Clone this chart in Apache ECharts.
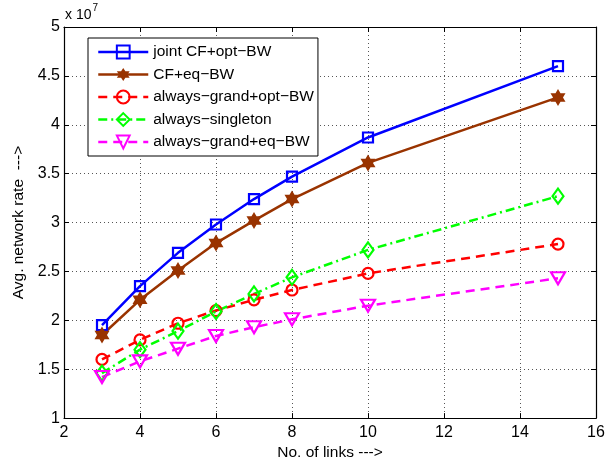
<!DOCTYPE html>
<html><head><meta charset="utf-8">
<script src="https://cdn.jsdelivr.net/npm/echarts@6/dist/echarts.min.js"></script>
<style>html,body{margin:0;padding:0;background:#fff}#c{width:616px;height:466px}</style>
</head><body><div id="c"></div>
<script>
const links = [3, 4, 5, 6, 7, 8, 10, 15];
const jointOptBW = [1.95, 2.35, 2.69, 2.98, 3.24, 3.47, 3.87, 4.60];
const cfEqBW = [1.85, 2.21, 2.51, 2.79, 3.02, 3.24, 3.61, 4.28];
const grandOptBW = [1.60, 1.80, 1.97, 2.10, 2.21, 2.31, 2.48, 2.78];
const singleton = [1.46, 1.70, 1.89, 2.09, 2.27, 2.44, 2.72, 3.27];
const grandEqBW = [1.42, 1.58, 1.71, 1.84, 1.93, 2.01, 2.15, 2.43];
const seriesNames = ['joint CF+opt\u2212BW', 'CF+eq\u2212BW', 'always\u2212grand+opt\u2212BW', 'always\u2212singleton', 'always\u2212grand+eq\u2212BW'];

const FONT = 'Liberation Sans, Arial, sans-serif';
const hexagram = 'path://M0,-100L28.87,-50L86.6,-50L57.7,0L86.6,50L28.87,50L0,100L-28.87,50L-86.6,50L-57.7,0L-86.6,-50L-28.87,-50Z';
function pairs(v){ return links.map((x,i)=>[x, v[i]]); }
function mk(name, vals, color, type, symbol, size, filled, rot){
  return {
    name, type:'line', data: pairs(vals), symbol, symbolSize: size, symbolRotate: rot||0,
    lineStyle:{color, width:2.5, type},
    itemStyle:{color: filled ? color : 'rgba(255,255,255,0)', borderColor: color, borderWidth: filled?0:2.2},
    emphasis:{disabled:true}, animation:false, z: 3
  };
}
const chart = echarts.init(document.getElementById('c'));
const axisCommon = {
  axisLine:{show:true, onZero:false, lineStyle:{color:'#000', width:1.2}},
  axisTick:{show:true, inside:true, length:5, lineStyle:{color:'#000'}},
};
chart.setOption({
  animation:false,
  backgroundColor:'#fff',
  grid:{left:64, right:20, top:27, bottom:44, containLabel:false},
  xAxis:[
    Object.assign({type:'value', min:2, max:16, interval:2, position:'bottom',
      axisLabel:{color:'#000', fontSize:16, fontFamily:FONT, margin:6},
      splitLine:{show:true, lineStyle:{color:'#555', type:[1,3], width:1}},
      name:'No. of links --->', nameLocation:'middle', nameGap:26,
      nameTextStyle:{color:'#000', fontSize:15.5, fontFamily:FONT}}, axisCommon),
    Object.assign({type:'value', min:2, max:16, interval:2, position:'top',
      axisLabel:{show:false}, splitLine:{show:false}}, axisCommon)
  ],
  yAxis:[
    Object.assign({type:'value', min:1, max:5, interval:0.5, position:'left',
      axisLabel:{color:'#000', fontSize:16, fontFamily:FONT, margin:4},
      splitLine:{show:true, lineStyle:{color:'#555', type:[1,3], width:1}},
      name:'Avg. network rate  --->', nameLocation:'middle', nameGap:34,
      nameTextStyle:{color:'#000', fontSize:15.5, fontFamily:FONT}}, axisCommon),
    Object.assign({type:'value', min:1, max:5, interval:0.5, position:'right',
      axisLabel:{show:false}, splitLine:{show:false}}, axisCommon)
  ],
  legend:{
    orient:'vertical', left:88, top:38,
    backgroundColor:'#fff', borderColor:'#000', borderWidth:1, borderRadius:0,
    padding:[6,4,6,9], itemGap:6.5, itemWidth:50, itemHeight:16,
    lineStyle:{width:2.5},
    textStyle:{color:'#000', fontSize:15.5, fontFamily:FONT},
    data: seriesNames
  },
  graphic:[{
    type:'text', left:65, top:3,
    style:{text:'{b|x 10}{s|7}', fill:'#000',
      rich:{
        b:{fontSize:14, fontFamily:FONT, fill:'#000', verticalAlign:'bottom'},
        s:{fontSize:10, fontFamily:FONT, verticalAlign:'top', padding:[0,0,9,1], fill:'#000'}
      }}
  }],
  series:[
    mk(seriesNames[0], jointOptBW, '#0000ff', 'solid', 'rect', 10, false),
    mk(seriesNames[1], cfEqBW, '#993300', 'solid', hexagram, [15,17], true),
    mk(seriesNames[2], grandOptBW, '#ff0000', [9,6], 'circle', 11, false),
    mk(seriesNames[3], singleton, '#00ff00', [9,4,2,4], 'diamond', [11,15], false),
    mk(seriesNames[4], grandEqBW, '#ff00ff', [9,6], 'triangle', [14,12], false, 180)
  ]
});
</script></body></html>
